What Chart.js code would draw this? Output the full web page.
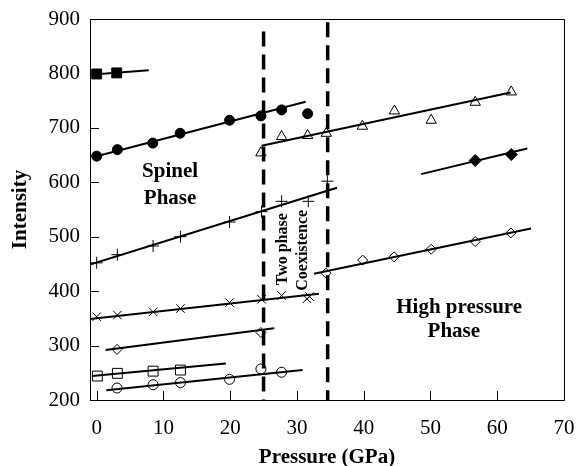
<!DOCTYPE html>
<html>
<head>
<meta charset="utf-8">
<script src="https://cdn.jsdelivr.net/npm/chart.js@4/dist/chart.umd.min.js"></script>
<style>
html,body{margin:0;padding:0;background:#fff;}
#wrap{width:576px;height:466px;}
</style>
</head>
<body>
<div id="wrap"><canvas id="c" width="576" height="466"></canvas></div>
<script>
// ---- data (Pressure GPa, Intensity) ----
const filledSquareX = [0, 3];
const filledSquareY = [799, 801];
const filledSquareFitX = [-0.5, 7.8];
const filledSquareFitY = [798, 806];

const filledCircleX = [0, 3.1, 8.4, 12.5, 19.9, 24.6, 27.7, 31.6];
const filledCircleY = [648, 660, 672, 690, 714, 722, 733, 726];
const filledCircleFitX = [0, 31.3];
const filledCircleFitY = [648, 748];

const openTriangleX = [24.6, 27.7, 31.6, 34.4, 39.8, 44.6, 50.1, 56.7, 62.1];
const openTriangleY = [654, 684, 686, 690, 703, 731, 714, 747, 766];
const openTriangleFitX = [24.7, 62];
const openTriangleFitY = [667, 765];

const filledDiamondX = [56.7, 62.1];
const filledDiamondY = [640, 651];
const filledDiamondFitX = [48.6, 64.5];
const filledDiamondFitY = [615, 662];

const plusX = [0, 3.1, 8.45, 12.55, 19.9, 24.7, 27.7, 31.7, 34.55];
const plusY = [452, 467, 483, 500, 527, 546, 565, 565, 602];
const plusFitX = [-1, 36];
const plusFitY = [449, 590];

const crossX = [0, 3.1, 8.45, 12.55, 19.9, 24.7, 27.7, 31.5, 31.9];
const crossY = [353, 356, 362, 368, 379, 385, 392, 386, 390];
const crossFitX = [-1, 33.3];
const crossFitY = [349, 395];

const openDiamondLowX = [3.05, 24.6];
const openDiamondLowY = [293, 324];
const openDiamondLowFitX = [1.35, 26.6];
const openDiamondLowFitY = [292, 332];

const openDiamondHighX = [34.35, 39.85, 44.55, 50.1, 56.7, 62.05];
const openDiamondHighY = [433, 457, 463, 477, 491, 507];
const openDiamondHighFitX = [32.55, 65.05];
const openDiamondHighFitY = [432, 515];

const openSquareX = [0.1, 3.1, 8.45, 12.55];
const openSquareY = [244, 249, 253, 255];
const openSquareFitX = [-0.7, 19.35];
const openSquareFitY = [244, 267];

const openCircleX = [3.05, 8.45, 12.55, 19.9, 24.6, 27.7];
const openCircleY = [222, 228, 232, 238, 257, 251];
const openCircleFitX = [1.45, 30.85];
const openCircleFitY = [218, 255];

// phase boundaries
const boundary1X = [25, 25];
const boundary1Y = [877, 200];
const boundary2X = [34.6, 34.6];
const boundary2Y = [894, 200];

const xTickValues = [0, 10, 20, 30, 40, 50, 60, 70];
const yTickValues = [200, 300, 400, 500, 600, 700, 800, 900];

const xTitle = 'Pressure (GPa)';
const yTitle = 'Intensity';

// ---- helpers ----
const pts = (xs, ys) => xs.map((x, i) => ({x: x, y: ys[i]}));
function markers(xs, ys, style, radius, fill, bw) {
  return {
    data: pts(xs, ys), showLine: false,
    pointStyle: style, pointRadius: radius, pointHoverRadius: radius,
    pointBackgroundColor: fill, pointBorderColor: '#000', pointBorderWidth: bw
  };
}
function fit(xs, ys) {
  return {
    data: pts(xs, ys), showLine: true, pointRadius: 0,
    borderColor: '#000', borderWidth: 2, fill: false
  };
}
function dashed(xs, ys) {
  return {
    data: pts(xs, ys), showLine: true, pointRadius: 0,
    borderColor: '#000', borderWidth: 3.5, borderDash: [15, 8], fill: false,
    borderCapStyle: 'butt'
  };
}

const datasets = [
  dashed(boundary1X, boundary1Y),
  dashed(boundary2X, boundary2Y),
  fit(filledSquareFitX, filledSquareFitY),
  fit(filledCircleFitX, filledCircleFitY),
  fit(openTriangleFitX, openTriangleFitY),
  fit(filledDiamondFitX, filledDiamondFitY),
  fit(plusFitX, plusFitY),
  fit(crossFitX, crossFitY),
  fit(openDiamondLowFitX, openDiamondLowFitY),
  fit(openDiamondHighFitX, openDiamondHighFitY),
  fit(openSquareFitX, openSquareFitY),
  fit(openCircleFitX, openCircleFitY),
  markers(filledSquareX, filledSquareY, 'rect', 7, '#000', 1),
  markers(filledCircleX, filledCircleY, 'circle', 5, '#000', 1),
  markers(openTriangleX, openTriangleY, 'triangle', 6, '#fff', 1),
  markers(filledDiamondX, filledDiamondY, 'rectRot', 6, '#000', 1),
  markers(plusX, plusY, 'cross', 6, '#000', 1),
  markers(crossX, crossY, 'crossRot', 6, '#000', 1),
  markers(openDiamondLowX, openDiamondLowY, 'rectRot', 5, '#fff', 1),
  markers(openDiamondHighX, openDiamondHighY, 'rectRot', 5, '#fff', 1),
  markers(openSquareX, openSquareY, 'rect', 7, '#fff', 1),
  markers(openCircleX, openCircleY, 'circle', 5, '#fff', 1)
];

const SERIF = '"Liberation Serif", "Times New Roman", serif';

// inside ticks + frame + annotations
const decor = {
  id: 'decor',
  afterDatasetsDraw(chart) {
    const {ctx, chartArea: a, scales: {x, y}} = chart;
    ctx.save();
    ctx.strokeStyle = '#000';
    ctx.lineWidth = 1;
    ctx.beginPath();
    ctx.rect(Math.round(a.left) + 0.5, Math.round(a.top) + 0.5,
             Math.round(a.right - a.left), Math.round(a.bottom - a.top));
    ctx.stroke();
    ctx.beginPath();
    xTickValues.forEach(v => {
      const px = Math.round(x.getPixelForValue(v)) + 0.5;
      ctx.moveTo(px, a.bottom); ctx.lineTo(px, a.bottom - 9);
    });
    yTickValues.forEach(v => {
      const py = Math.round(y.getPixelForValue(v)) + 0.5;
      ctx.moveTo(a.left, py); ctx.lineTo(a.left + 9, py);
    });
    ctx.stroke();

    ctx.fillStyle = '#000';
    ctx.textAlign = 'center';
    ctx.textBaseline = 'middle';
    ctx.font = 'bold 21px ' + SERIF;
    const T = (s, vx, vy) => ctx.fillText(s, x.getPixelForValue(vx), y.getPixelForValue(vy));
    T('Spinel', 11.0, 620);
    T('Phase', 11.0, 570);
    T('High pressure', 54.3, 370);
    T('Phase', 53.5, 325);

    ctx.font = 'bold 16px ' + SERIF;
    ctx.textBaseline = 'alphabetic';
    const R = (s, vx, vy) => {
      ctx.save();
      ctx.translate(x.getPixelForValue(vx), y.getPixelForValue(vy));
      ctx.rotate(-Math.PI / 2);
      ctx.fillText(s, 0, 5);
      ctx.restore();
    };
    R('Two phase', 27.7, 477);
    R('Coexistence', 30.7, 475);
    ctx.restore();
  }
};

new Chart(document.getElementById('c'), {
  type: 'scatter',
  data: {datasets: datasets},
  options: {
    responsive: false,
    animation: false,
    events: [],
    layout: {padding: {left: 0, top: 19, right: 12, bottom: 0}},
    plugins: {legend: {display: false}, tooltip: {enabled: false}},
    scales: {
      x: {
        type: 'linear', min: -1, max: 70,
        grid: {display: false, drawTicks: false},
        border: {display: false},
        afterFit(s) { s.height = 66; s.paddingLeft = 0; s.paddingRight = 0; },
        afterBuildTicks(s) { s.ticks = xTickValues.map(v => ({value: v})); },
        ticks: {color: '#000', padding: 16, maxRotation: 0, font: {family: SERIF, size: 21}},
        title: {display: true, text: xTitle, color: '#000', padding: {top: 0, bottom: 0},
                font: {family: SERIF, size: 21, weight: 'bold', lineHeight: 0.8}}
      },
      y: {
        type: 'linear', min: 200, max: 900,
        grid: {display: false, drawTicks: false},
        border: {display: false},
        afterFit(s) { s.width = 90; s.paddingTop = 0; s.paddingBottom = 0; },
        afterBuildTicks(s) { s.ticks = yTickValues.map(v => ({value: v})); },
        ticks: {color: '#000', padding: 10, font: {family: SERIF, size: 21}},
        title: {display: true, text: yTitle, color: '#000', padding: {top: 8, bottom: 0},
                font: {family: SERIF, size: 21, weight: 'bold', lineHeight: 1.2}}
      }
    }
  },
  plugins: [decor]
});
</script>
</body>
</html>
